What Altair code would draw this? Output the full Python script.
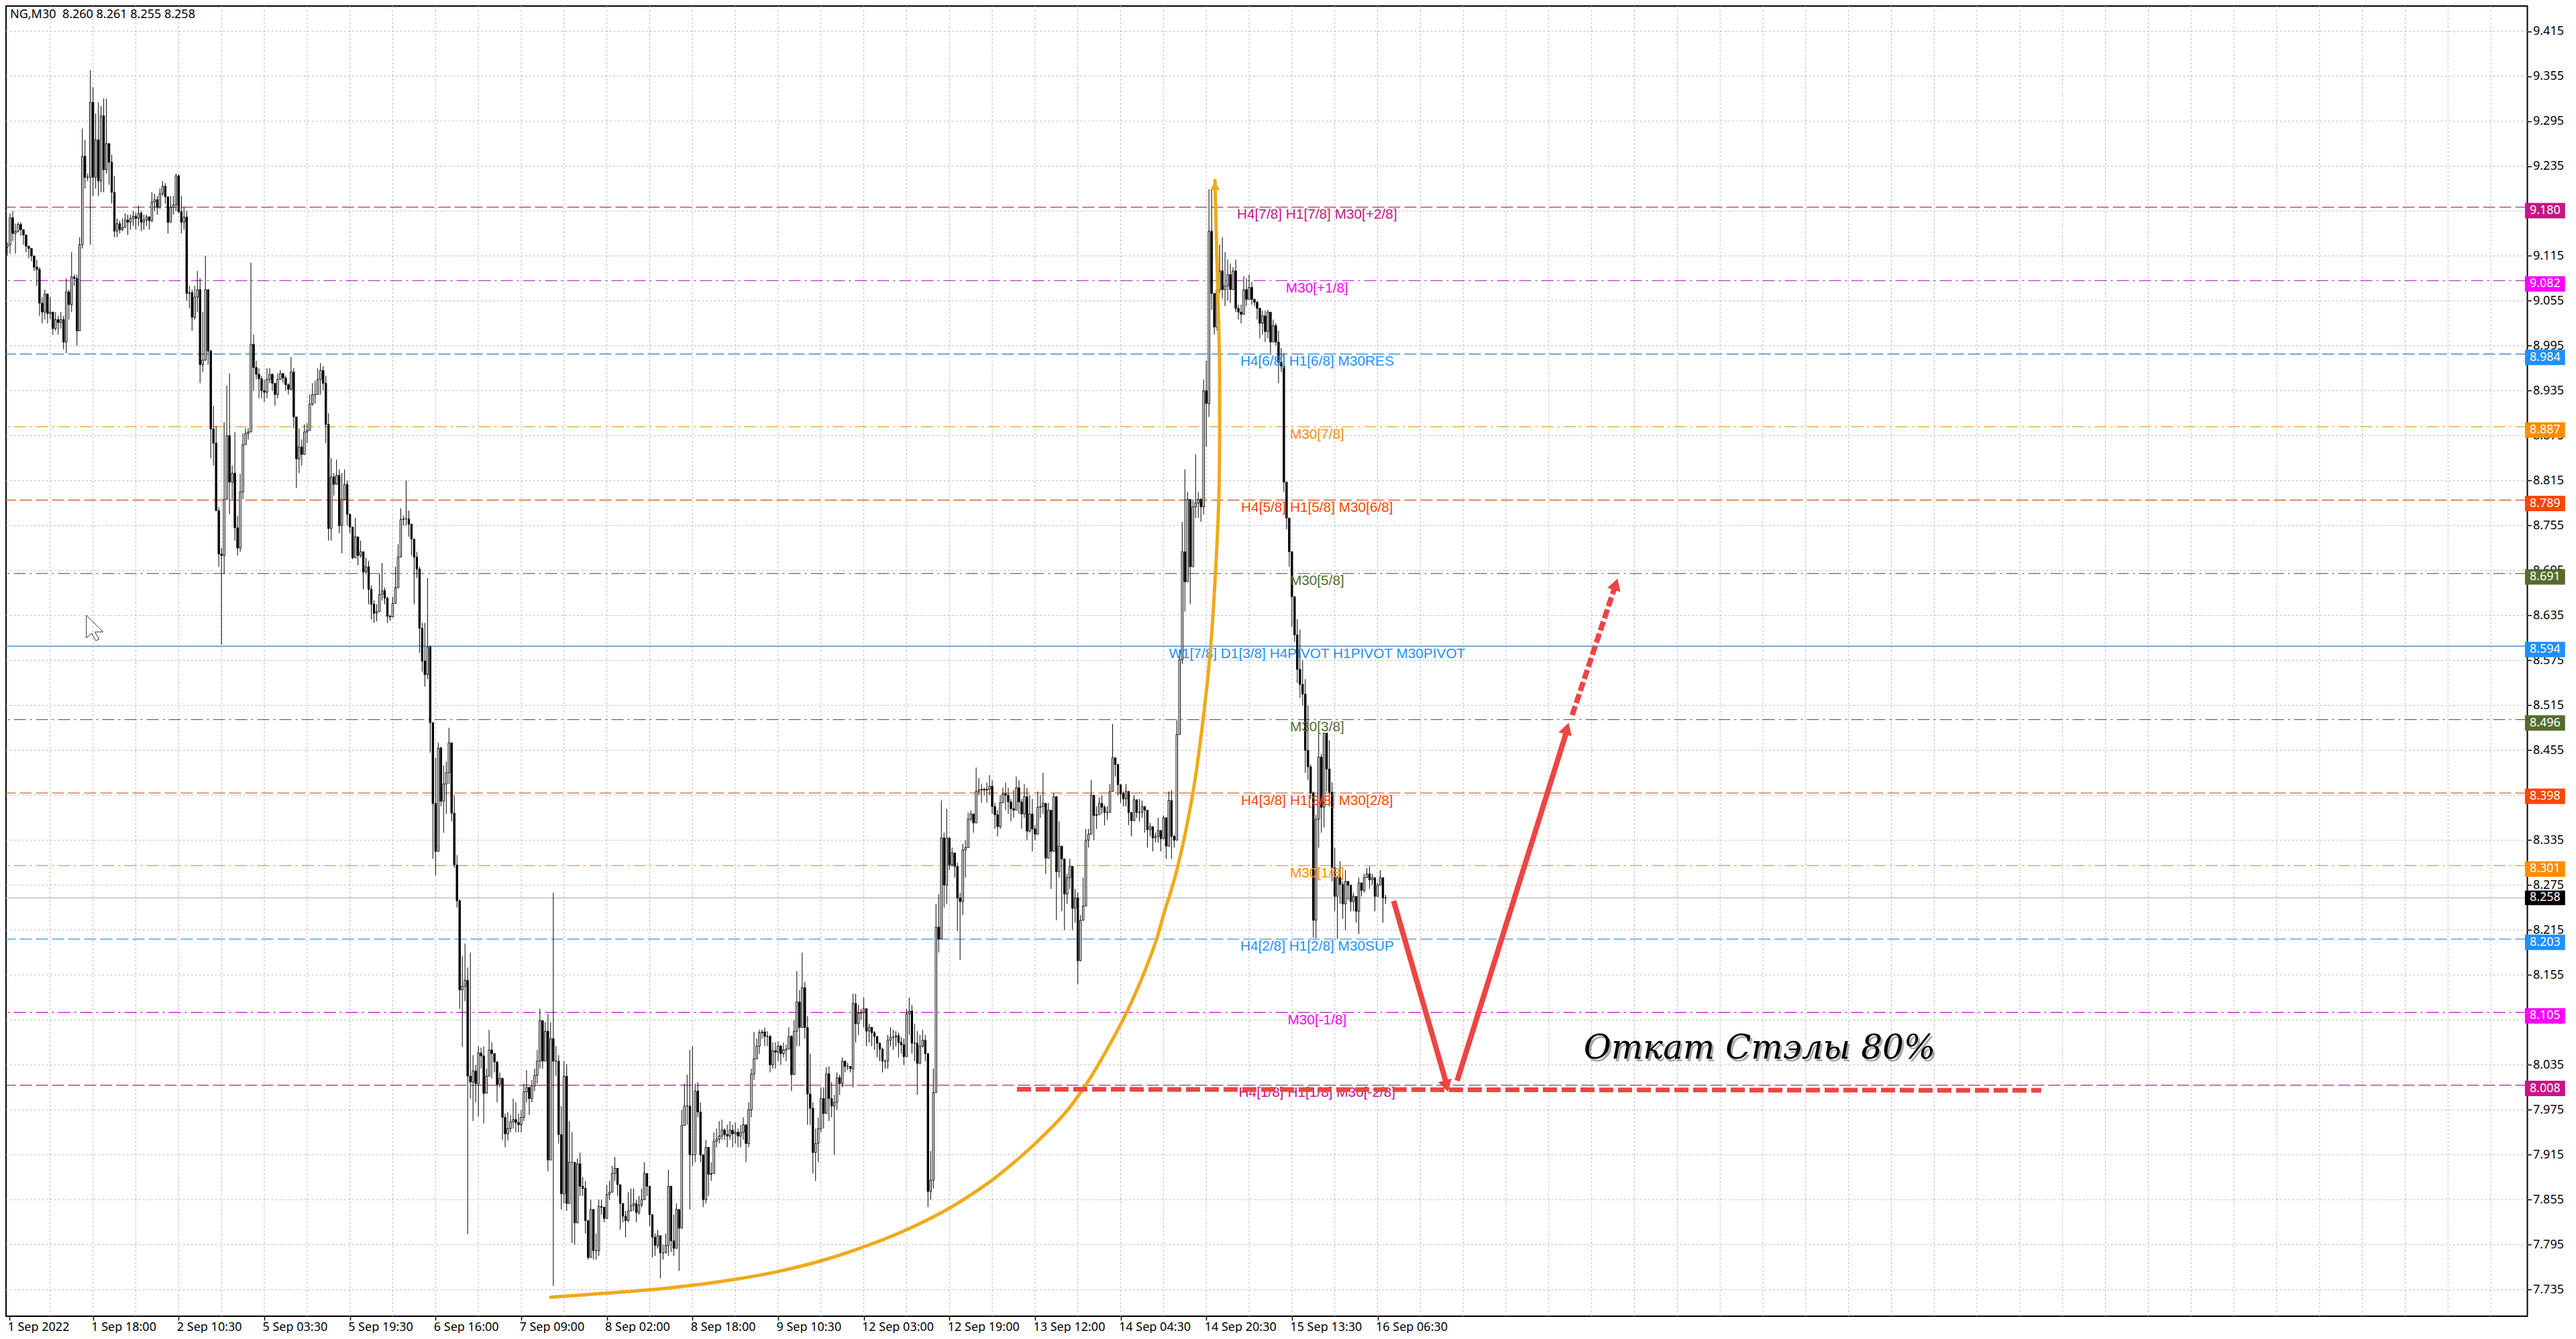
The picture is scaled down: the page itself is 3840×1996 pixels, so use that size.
import json
import altair as alt
import pandas as pd

# prices in thousandths, one candle every 4 screen pixels
closes = [
9130,9166,9145,9148,9157,9150,9143,9128,9125,9115,
9100,9097,9052,9040,9064,9038,9040,9018,9030,9026,
9030,9000,9067,9050,9087,9085,9015,9130,9248,9220,
9220,9320,9220,9270,9215,9302,9230,9265,9240,9200,
9148,9158,9150,9153,9163,9160,9165,9168,9165,9172,
9160,9163,9167,9162,9187,9190,9180,9198,9208,9194,
9160,9180,9183,9222,9174,9160,9167,9065,9066,9033,
9060,9070,8970,8976,9070,8988,8884,8865,8775,8717,
8715,8790,8875,8813,8825,8752,8725,8800,8863,8878,
8880,8997,8966,8957,8951,8935,8933,8950,8957,8945,
8930,8950,8958,8952,8943,8937,8960,8900,8844,8860,
8850,8880,8882,8917,8930,8930,8950,8962,8945,8890,
8751,8820,8810,8822,8755,8790,8810,8770,8753,8712,
8740,8715,8720,8693,8700,8670,8650,8638,8640,8663,
8668,8658,8634,8633,8651,8672,8713,8763,8764,8764,
8757,8737,8713,8697,8618,8574,8556,8593,8492,8384,
8320,8458,8387,8410,8425,8465,8371,8302,8254,8135,
8140,8148,8020,8012,8027,8010,8051,8047,7997,8020,
8055,8050,8039,8009,8017,7965,7943,7950,7959,7962,
7958,7955,7965,7999,8005,7990,8007,8021,8040,8094,
8040,8080,7908,8070,8040,8040,7942,7863,8020,7850,
7905,7905,7824,7903,7873,7870,7827,7778,7842,7787,
7787,7846,7845,7830,7862,7865,7890,7897,7875,7850,
7833,7827,7840,7847,7850,7838,7848,7855,7890,7873,
7835,7805,7794,7807,7784,7784,7794,7873,7800,7790,
7842,7817,7954,7980,7980,7915,7915,8000,7972,7915,
7855,7925,7889,7890,7933,7936,7940,7948,7942,7940,
7948,7943,7945,7940,7945,7955,7930,7975,8023,8043,
8060,8078,8079,8073,8073,8035,8054,8052,8060,8050,
8055,8056,8073,8022,8080,8119,8085,8138,8085,7996,
7977,7918,7930,7950,7990,7970,8023,7990,7980,7985,
8018,8010,8040,8033,8033,8030,8117,8090,8104,8105,
8110,8080,8085,8078,8073,8064,8056,8040,8040,8068,
8072,8072,8074,8065,8062,8046,8103,8107,8064,8064,
8037,8060,8068,8050,7866,7881,7998,8219,8203,8338,
8275,8338,8302,8318,8300,8258,8253,8322,8325,8363,
8370,8358,8400,8402,8403,8402,8403,8407,8380,8369,
8353,8385,8397,8395,8386,8377,8375,8405,8386,8370,
8393,8347,8370,8350,8343,8379,8380,8384,8311,8375,
8320,8393,8293,8327,8310,8263,8285,8300,8244,8258,
8174,8228,8247,8335,8343,8395,8368,8369,8384,8379,
8372,8372,8400,8445,8436,8409,8397,8390,8400,8372,
8361,8389,8372,8372,8380,8375,8349,8353,8338,8340,
8348,8337,8365,8327,8388,8340,8335,8476,8576,8720,
8680,8790,8700,8780,8785,8790,8780,8935,8918,9148,
9065,9020,9070,9095,9070,9075,9090,9070,9095,9045,
9040,9037,9070,9057,9073,9057,9053,9045,9025,9035,
9014,9040,9000,9022,9000,8973,8968,8813,8765,8720,
8660,8609,8563,8543,8530,8455,8433,8398,8228,8363,
8446,8379,8478,8430,8399,8298,8260,8285,8276,8250,
8280,8275,8253,8260,8240,8278,8268,8285,8290,8282,
8285,8260,8275,8285,8258,8258]

highs = [
9133,9172,9175,9158,9160,9160,9150,9135,9128,9118,
9115,9110,9100,9060,9070,9065,9060,9035,9040,9035,
9040,9035,9085,9070,9120,9090,9090,9140,9285,9270,
9225,9363,9340,9305,9320,9315,9325,9325,9260,9250,
9222,9165,9162,9165,9172,9170,9170,9175,9172,9182,
9175,9170,9170,9168,9200,9198,9195,9205,9215,9212,
9178,9195,9195,9225,9224,9195,9180,9175,9075,9070,
9075,9095,9085,9040,9115,9060,8990,8915,8888,8780,
8725,8893,8942,8958,8835,8880,8768,8824,8878,8885,
8885,9106,9010,8975,8965,8955,8950,8965,8965,8958,
8945,8958,8963,8958,8955,8945,8980,8965,8890,8885,
8870,8890,8892,8930,8945,8948,8965,8972,8968,8955,
8905,8845,8825,8843,8830,8825,8830,8815,8770,8716,
8765,8740,8735,8720,8712,8708,8675,8655,8650,8690,
8705,8672,8660,8636,8660,8700,8730,8778,8768,8815,
8775,8750,8730,8720,8700,8625,8625,8685,8595,8455,
8445,8465,8460,8435,8440,8485,8465,8395,8315,8256,
8180,8197,8165,8185,8048,8035,8060,8058,8060,8030,
8082,8065,8050,8020,8025,8018,7970,7972,7968,7990,
7985,7970,7975,8010,8028,8005,8015,8030,8055,8110,
8075,8092,8103,8092,8265,8060,8048,7980,8040,8036,
7960,7945,7860,7910,7918,7885,7880,7828,7855,7830,
7810,7855,7855,7845,7875,7880,7900,7912,7895,7870,
7850,7840,7865,7870,7870,7855,7860,7870,7905,7890,
7860,7815,7810,7815,7800,7795,7810,7895,7845,7835,
7850,7830,7975,8010,8022,8055,8060,8010,8012,7985,
7910,7935,7925,7905,7945,7950,7960,7962,7950,7955,
7960,7955,7958,7950,7955,7965,7950,7985,8030,8079,
8070,8082,8082,8085,8080,8075,8065,8065,8066,8062,
8065,8062,8085,8075,8095,8160,8135,8185,8146,8100,
8050,7985,7950,7965,8005,8005,8032,8033,8012,7995,
8025,8022,8045,8040,8038,8032,8130,8130,8115,8110,
8125,8105,8090,8085,8080,8072,8065,8058,8042,8075,
8085,8082,8080,8078,8072,8070,8110,8125,8115,8090,
8080,8075,8082,8075,8048,7920,8030,8250,8263,8388,
8345,8377,8337,8325,8312,8305,8265,8330,8335,8372,
8375,8368,8432,8418,8410,8405,8412,8422,8415,8385,
8375,8395,8405,8412,8405,8390,8402,8420,8415,8390,
8410,8405,8395,8390,8355,8400,8395,8425,8385,8385,
8340,8398,8330,8360,8320,8310,8290,8310,8275,8270,
8265,8235,8285,8350,8350,8415,8380,8380,8392,8395,
8382,8380,8410,8490,8440,8425,8405,8400,8410,8395,
8370,8395,8385,8390,8388,8380,8360,8358,8345,8345,
8365,8345,8368,8345,8400,8402,8342,8495,8590,8760,
8830,8800,8790,8790,8850,8800,8792,8950,8975,9204,
9204,9045,9115,9130,9140,9120,9110,9105,9100,9110,
9050,9050,9088,9085,9090,9080,9058,9055,9040,9042,
9042,9043,9022,9030,9025,9015,8992,8985,8800,8740,
8680,8640,8630,8616,8575,8550,8515,8436,8400,8369,
8477,8450,8478,8478,8468,8412,8325,8288,8307,8280,
8295,8275,8270,8265,8255,8285,8272,8290,8298,8300,
8290,8283,8278,8295,8265,8262]

lows = [
9115,9118,9135,9118,9146,9142,9130,9120,9112,9108,
9095,9075,9035,9025,9030,9025,9030,9010,9015,9010,
9018,8990,8985,9030,9040,9075,8995,9090,9125,9205,
9215,9130,9195,9205,9195,9200,9200,9225,9210,9185,
9140,9140,9145,9148,9155,9143,9150,9155,9150,9155,
9148,9150,9155,9150,9160,9175,9170,9178,9195,9185,
9145,9160,9170,9175,9172,9145,9150,9055,9045,9015,
9030,9040,8945,8960,8975,8970,8845,8835,8775,8700,
8596,8690,8810,8770,8790,8735,8715,8720,8790,8870,
8870,8935,8935,8950,8925,8925,8920,8925,8945,8935,
8915,8925,8950,8945,8935,8930,8935,8885,8805,8825,
8835,8855,8865,8905,8915,8918,8935,8930,8935,8865,
8735,8735,8795,8810,8745,8718,8790,8755,8745,8710,
8722,8702,8712,8670,8690,8650,8630,8625,8627,8655,
8655,8650,8625,8628,8640,8660,8700,8750,8755,8755,
8740,8715,8650,8685,8585,8560,8540,8550,8452,8310,
8288,8320,8380,8345,8370,8410,8360,8298,8245,8110,
8059,8120,7809,7990,7960,7985,7966,8030,7957,8000,
8020,8017,8025,7985,8005,7935,7925,7934,7945,7950,
7945,7945,7945,7960,7985,7968,7985,8000,8010,8030,
8030,8050,7893,8050,7740,8020,7930,7842,7850,7840,
7855,7797,7795,7840,7860,7860,7810,7775,7780,7775,
7775,7780,7835,7825,7850,7855,7875,7880,7860,7815,
7825,7805,7825,7840,7840,7825,7835,7845,7860,7860,
7820,7778,7780,7790,7750,7775,7785,7780,7785,7780,
7830,7760,7845,7965,7955,7842,7900,7905,7965,7905,
7845,7850,7860,7880,7920,7925,7930,7935,7935,7925,
7935,7925,7930,7925,7925,7935,7905,7925,7965,8015,
8045,8050,8070,8060,8060,8025,8030,8030,8040,8035,
8045,8040,8060,8000,8045,8060,8060,8095,8070,7955,
7955,7890,7880,7905,7945,7950,7985,7960,7965,7915,
7975,7995,8005,8025,8028,8025,8005,8065,8075,8095,
8085,8060,8065,8060,8055,8045,8040,8025,8030,8030,
8060,8055,8060,8045,8050,8035,8055,8075,8050,8040,
7995,8045,8058,8040,7845,7855,7870,8000,8185,8205,
8245,8250,8295,8300,8285,8214,8175,8235,8285,8325,
8360,8345,8385,8395,8385,8395,8385,8395,8370,8350,
8340,8350,8385,8375,8370,8360,8365,8395,8370,8350,
8365,8335,8345,8320,8335,8350,8365,8370,8290,8340,
8270,8320,8228,8285,8240,8215,8250,8270,8215,8225,
8143,8195,8240,8320,8325,8370,8335,8350,8370,8370,
8355,8362,8395,8430,8420,8395,8385,8380,8380,8355,
8340,8370,8365,8360,8365,8345,8325,8340,8320,8332,
8332,8320,8345,8310,8380,8310,8325,8339,8476,8570,
8640,8680,8650,8700,8765,8765,8760,8770,8860,8900,
9043,9010,9015,9065,9058,9048,9055,9052,9080,9040,
9030,9025,9060,9048,9060,9050,9048,9030,9005,9010,
9000,9005,8985,9000,8995,8945,8960,8800,8750,8700,
8620,8600,8545,8525,8515,8425,8415,8390,8205,8204,
8325,8345,8352,8400,8380,8280,8240,8203,8250,8230,
8215,8255,8240,8240,8225,8210,8260,8265,8285,8270,
8275,8240,8265,8280,8225,8250]

time_labels = ["1 Sep 2022", "1 Sep 18:00", "2 Sep 10:30", "5 Sep 03:30", "5 Sep 19:30",
               "6 Sep 16:00", "7 Sep 09:00", "8 Sep 02:00", "8 Sep 18:00", "9 Sep 10:30",
               "12 Sep 03:00", "12 Sep 19:00", "13 Sep 12:00", "14 Sep 04:30", "14 Sep 20:30",
               "15 Sep 13:30", "16 Sep 06:30"]
price_ticks = [9.415, 9.355, 9.295, 9.235, 9.175, 9.115, 9.055, 8.995, 8.935, 8.875, 8.815,
               8.755, 8.695, 8.635, 8.575, 8.515, 8.455, 8.395, 8.335, 8.275, 8.215, 8.155,
               8.095, 8.035, 7.975, 7.915, 7.855, 7.795, 7.735]

level_prices = [9.180, 9.082, 8.984, 8.887, 8.789, 8.691, 8.594, 8.496, 8.398, 8.301, 8.203, 8.105, 8.008]
level_texts = ["H4[7/8] H1[7/8] M30[+2/8]", "M30[+1/8]", "H4[6/8] H1[6/8] M30RES", "M30[7/8]",
               "H4[5/8] H1[5/8] M30[6/8]", "M30[5/8]", "W1[7/8] D1[3/8] H4PIVOT H1PIVOT M30PIVOT",
               "M30[3/8]", "H4[3/8] H1[3/8] M30[2/8]", "M30[1/8]", "H4[2/8] H1[2/8] M30SUP",
               "M30[-1/8]", "H4[1/8] H1[1/8] M30[-2/8]"]
level_colors = ["#C71585", "#FF00FF", "#1E90FF", "#FF8C00", "#FF4500", "#556B2F", "#1E90FF",
                "#556B2F", "#FF4500", "#FF8C00", "#1E90FF", "#FF00FF", "#C71585"]
line_colors = ["#A02A85", "#C030C8", "#3A8FD0", "#E09A30", "#D0602A", "#5F6F45", "#4A90D8",
               "#5F6F45", "#D0602A", "#E09A30", "#3A8FD0", "#C030C8", "#A02A85"]
level_kinds = ["dash", "dot", "dash", "dot", "dash", "dot", "solid", "dot", "dash", "dot", "dash", "dot", "dash"]

curve_i = [203, 248.75, 272, 288, 304.25, 320, 336.25, 352, 368, 384.25, 395.5, 402, 407.5, 417,
           424.5, 429.5, 432, 436.75, 443, 447, 449.5, 450.75, 452.7, 453, 452.9, 451.9, 451.25]
curve_p = [7.7249, 7.7378, 7.7488, 7.7592, 7.7736, 7.7920, 7.8153, 7.8437, 7.8813, 7.9306, 7.9718,
           8.0031, 8.0345, 8.0962, 8.1553, 8.2037, 8.2351, 8.2915, 8.3981, 8.5019, 8.5870, 8.6498,
           8.7931, 8.9426, 8.9874, 9.1217, 9.2157]

cursor_i = [29.5, 29.5, 31.5, 33, 34.25, 32.75, 35.75, 29.5]
cursor_p = [8.6354, 8.6049, 8.6112, 8.6014, 8.6031, 8.6130, 8.6130, 8.6354]

n = min(len(closes), len(highs), len(lows))
opens = [closes[0] - 3] + closes[:n - 1]
candles = pd.DataFrame({
    "i": list(range(n)),
    "o": [v / 1000 for v in opens],
    "c": [v / 1000 for v in closes[:n]],
    "h": [v / 1000 for v in highs[:n]],
    "l": [v / 1000 for v in lows[:n]],
})
candles["dir"] = ["up" if c >= o else "down" for c, o in zip(candles["c"], candles["o"])]

levels = pd.DataFrame({"p": level_prices, "t": level_texts, "col": level_colors, "lc": line_colors, "kind": level_kinds})
levels["tx"] = 489.4
levels["ty"] = levels["p"] - 0.0103
levels["tag_a"] = levels["p"] + 0.0058
levels["tag_b"] = levels["p"] - 0.0148
levels["tag_y"] = levels["p"] - 0.0045
levels["tag_t"] = [f"{v:.3f}" for v in level_prices]
levels["x1"] = 940.75
levels["x2"] = 955.75
levels["xt"] = 942.5

xs = alt.Scale(domain=[0.75, 940.4], nice=False, zero=False)
ys = alt.Scale(domain=[7.6995, 9.4486], nice=False, zero=False)
FONT = "Noto Sans"

xaxis = alt.Axis(values=[0.75] + [32 * k for k in range(1, 17)], grid=False, domain=False,
                 tickColor="black", tickSize=6, tickWidth=1.5, labelAlign="left", labelBaseline="top",
                 labelPadding=1, labelOffset=-3, labelFont=FONT, labelFontSize=18, labelColor="black",
                 labelFlush=False, labelOverlap=False, labelBound=False,
                 labelExpr=json.dumps(time_labels) + "[round(datum.value/32)]", title=None)
yaxis = alt.Axis(values=price_ticks, orient="right", grid=False, domain=False, tickColor="black",
                 tickSize=6, tickWidth=1.5, labelPadding=2, labelFont=FONT, labelFontSize=18,
                 labelColor="black", labelOverlap=False, labelBound=False, labelFlush=False,
                 format=".3f", title=None)


def X(f):
    return alt.X(f, type="quantitative", scale=xs, axis=xaxis, title=None)


def Y(f):
    return alt.Y(f, type="quantitative", scale=ys, axis=yaxis, title=None)


grid_x = alt.Chart(pd.DataFrame({"x": [16 * k for k in range(1, 59)]})).mark_rule(
    color="#bbbbbb", strokeWidth=1, strokeDash=[3, 3]).encode(x=X("x"))
grid_y = alt.Chart(pd.DataFrame({"y": price_ticks})).mark_rule(
    color="#bbbbbb", strokeWidth=1, strokeDash=[3, 3]).encode(y=Y("y"))


def level_lines(kind, dash, width):
    d = levels[levels["kind"] == kind]
    props = dict(strokeWidth=width)
    if dash:
        props["strokeDash"] = dash
    return alt.Chart(d).mark_rule(**props).encode(y=Y("p"), color=alt.Color("lc:N", scale=None, legend=None))


line_dash = level_lines("dash", [18, 6], 1.3)
line_dot = level_lines("dot", [18, 6, 3, 6], 1.3)
line_solid = level_lines("solid", None, 1.6)
price_line = alt.Chart(pd.DataFrame({"p": [8.258]})).mark_rule(color="#c0c0c0", strokeWidth=1.5).encode(y=Y("p"))

wicks = alt.Chart(candles).mark_rule(color="black", strokeWidth=1).encode(x=X("i"), y=Y("l"), y2="h")
bodies = alt.Chart(candles).mark_bar(size=2.4, stroke="black", strokeWidth=1, orient="vertical").encode(
    x=X("i"), y=Y("o"), y2="c",
    color=alt.Color("dir:N", scale=alt.Scale(domain=["up", "down"], range=["white", "black"]), legend=None))

level_text = alt.Chart(levels).mark_text(font="Liberation Sans", fontSize=20.8, align="center", baseline="middle").encode(
    x=X("tx"), y=Y("ty"), text="t:N", color=alt.Color("col:N", scale=None, legend=None))

curve = alt.Chart(pd.DataFrame({"i": curve_i, "p": curve_p, "k": range(len(curve_i))})).mark_line(
    color="#EFAA1A", strokeWidth=5, interpolate="catmull-rom", strokeCap="round").encode(
    x=X("i"), y=Y("p"), order="k:Q")
curve_head = alt.Chart(pd.DataFrame({"i": [451.25], "p": [9.2086]})).mark_point(
    shape="triangle-up", filled=True, color="#EFAA1A", opacity=1, size=220).encode(x=X("i"), y=Y("p"))

RED = "#EE4444"


def red_line(x_vals, p_vals, width=8, dash=None):
    props = dict(color=RED, strokeWidth=width, strokeCap="butt")
    if dash:
        props["strokeDash"] = dash
    return alt.Chart(pd.DataFrame({"i": x_vals, "p": p_vals, "k": range(len(x_vals))})).mark_line(**props).encode(
        x=X("i"), y=Y("p"), order="k:Q")


def red_head(i, p, ang):
    return alt.Chart(pd.DataFrame({"i": [i], "p": [p]})).mark_point(
        shape="triangle-up", filled=True, color=RED, opacity=1, size=420, angle=ang).encode(x=X("i"), y=Y("p"))


red_dash = red_line([377.25, 760], [8.0025, 8.001], width=7, dash=[21, 7])
arrow1 = red_line([518, 538.0], [8.2539, 8.0067])
head1 = red_head(537.75, 8.0067, 164)
arrow2 = red_line([541.75, 583.0], [8.0139, 8.484])
head2 = red_head(582.75, 8.484, 17)
arrow3 = red_line([584.75, 601.0], [8.5019, 8.6766], dash=[14, 5])
head3 = red_head(601, 8.6766, 18)

note = pd.DataFrame({"i": [654.75], "p": [8.0569], "t": ["Откат Стэлы 80%"]})
note_shadow = alt.Chart(note).mark_text(font="DejaVu Serif", fontStyle="italic", fontSize=50, color="#888888",
                                        opacity=0.7, dx=3, dy=4, align="center", baseline="middle").encode(
    x=X("i"), y=Y("p"), text="t:N")
note_text = alt.Chart(note).mark_text(font="DejaVu Serif", fontStyle="italic", fontSize=50, color="black",
                                      align="center", baseline="middle").encode(x=X("i"), y=Y("p"), text="t:N")

header = alt.Chart(pd.DataFrame({"i": [1.0], "p": [9.4367], "t": ["NG,M30\u00a0\u00a08.260 8.261 8.255 8.258"]})).mark_text(
    font=FONT, fontSize=18, color="black", align="left", baseline="middle").encode(x=X("i"), y=Y("p"), text="t:N")

cursor = alt.Chart(pd.DataFrame({"i": cursor_i, "p": cursor_p, "k": range(len(cursor_i))})).mark_line(
    color="#333333", strokeWidth=1).encode(x=X("i"), y=Y("p"), order="k:Q")

tags = alt.Chart(levels).mark_rect().encode(x=X("x1"), x2="x2", y=Y("tag_a"), y2="tag_b",
                                            color=alt.Color("col:N", scale=None, legend=None))
tag_text = alt.Chart(levels).mark_text(font=FONT, fontSize=18, color="white", align="left", baseline="middle").encode(
    x=X("xt"), y=Y("tag_y"), text="tag_t:N")

last = pd.DataFrame({"x1": [940.75], "x2": [955.75], "a": [8.2678], "b": [8.2482], "xt": [942.5], "p": [8.258], "t": ["8.258"]})
last_tag = alt.Chart(last).mark_rect(color="black").encode(x=X("x1"), x2="x2", y=Y("a"), y2="b")
last_text = alt.Chart(last).mark_text(font=FONT, fontSize=18, color="white", align="left", baseline="middle").encode(
    x=X("xt"), y=Y("p"), text="t:N")

chart = alt.layer(
    grid_x, grid_y, line_dash, line_dot, line_solid, price_line, cursor,
    wicks, bodies, level_text, curve, curve_head, red_dash, arrow1, head1, arrow2, head2, arrow3, head3,
    note_shadow, note_text, header, tags, tag_text, last_tag, last_text,
).properties(width=3758.5, height=1953, padding=0, background="white").configure_view(stroke="black", strokeWidth=2)

chart.save("out.html", embed_options={"renderer": "svg", "actions": False})
